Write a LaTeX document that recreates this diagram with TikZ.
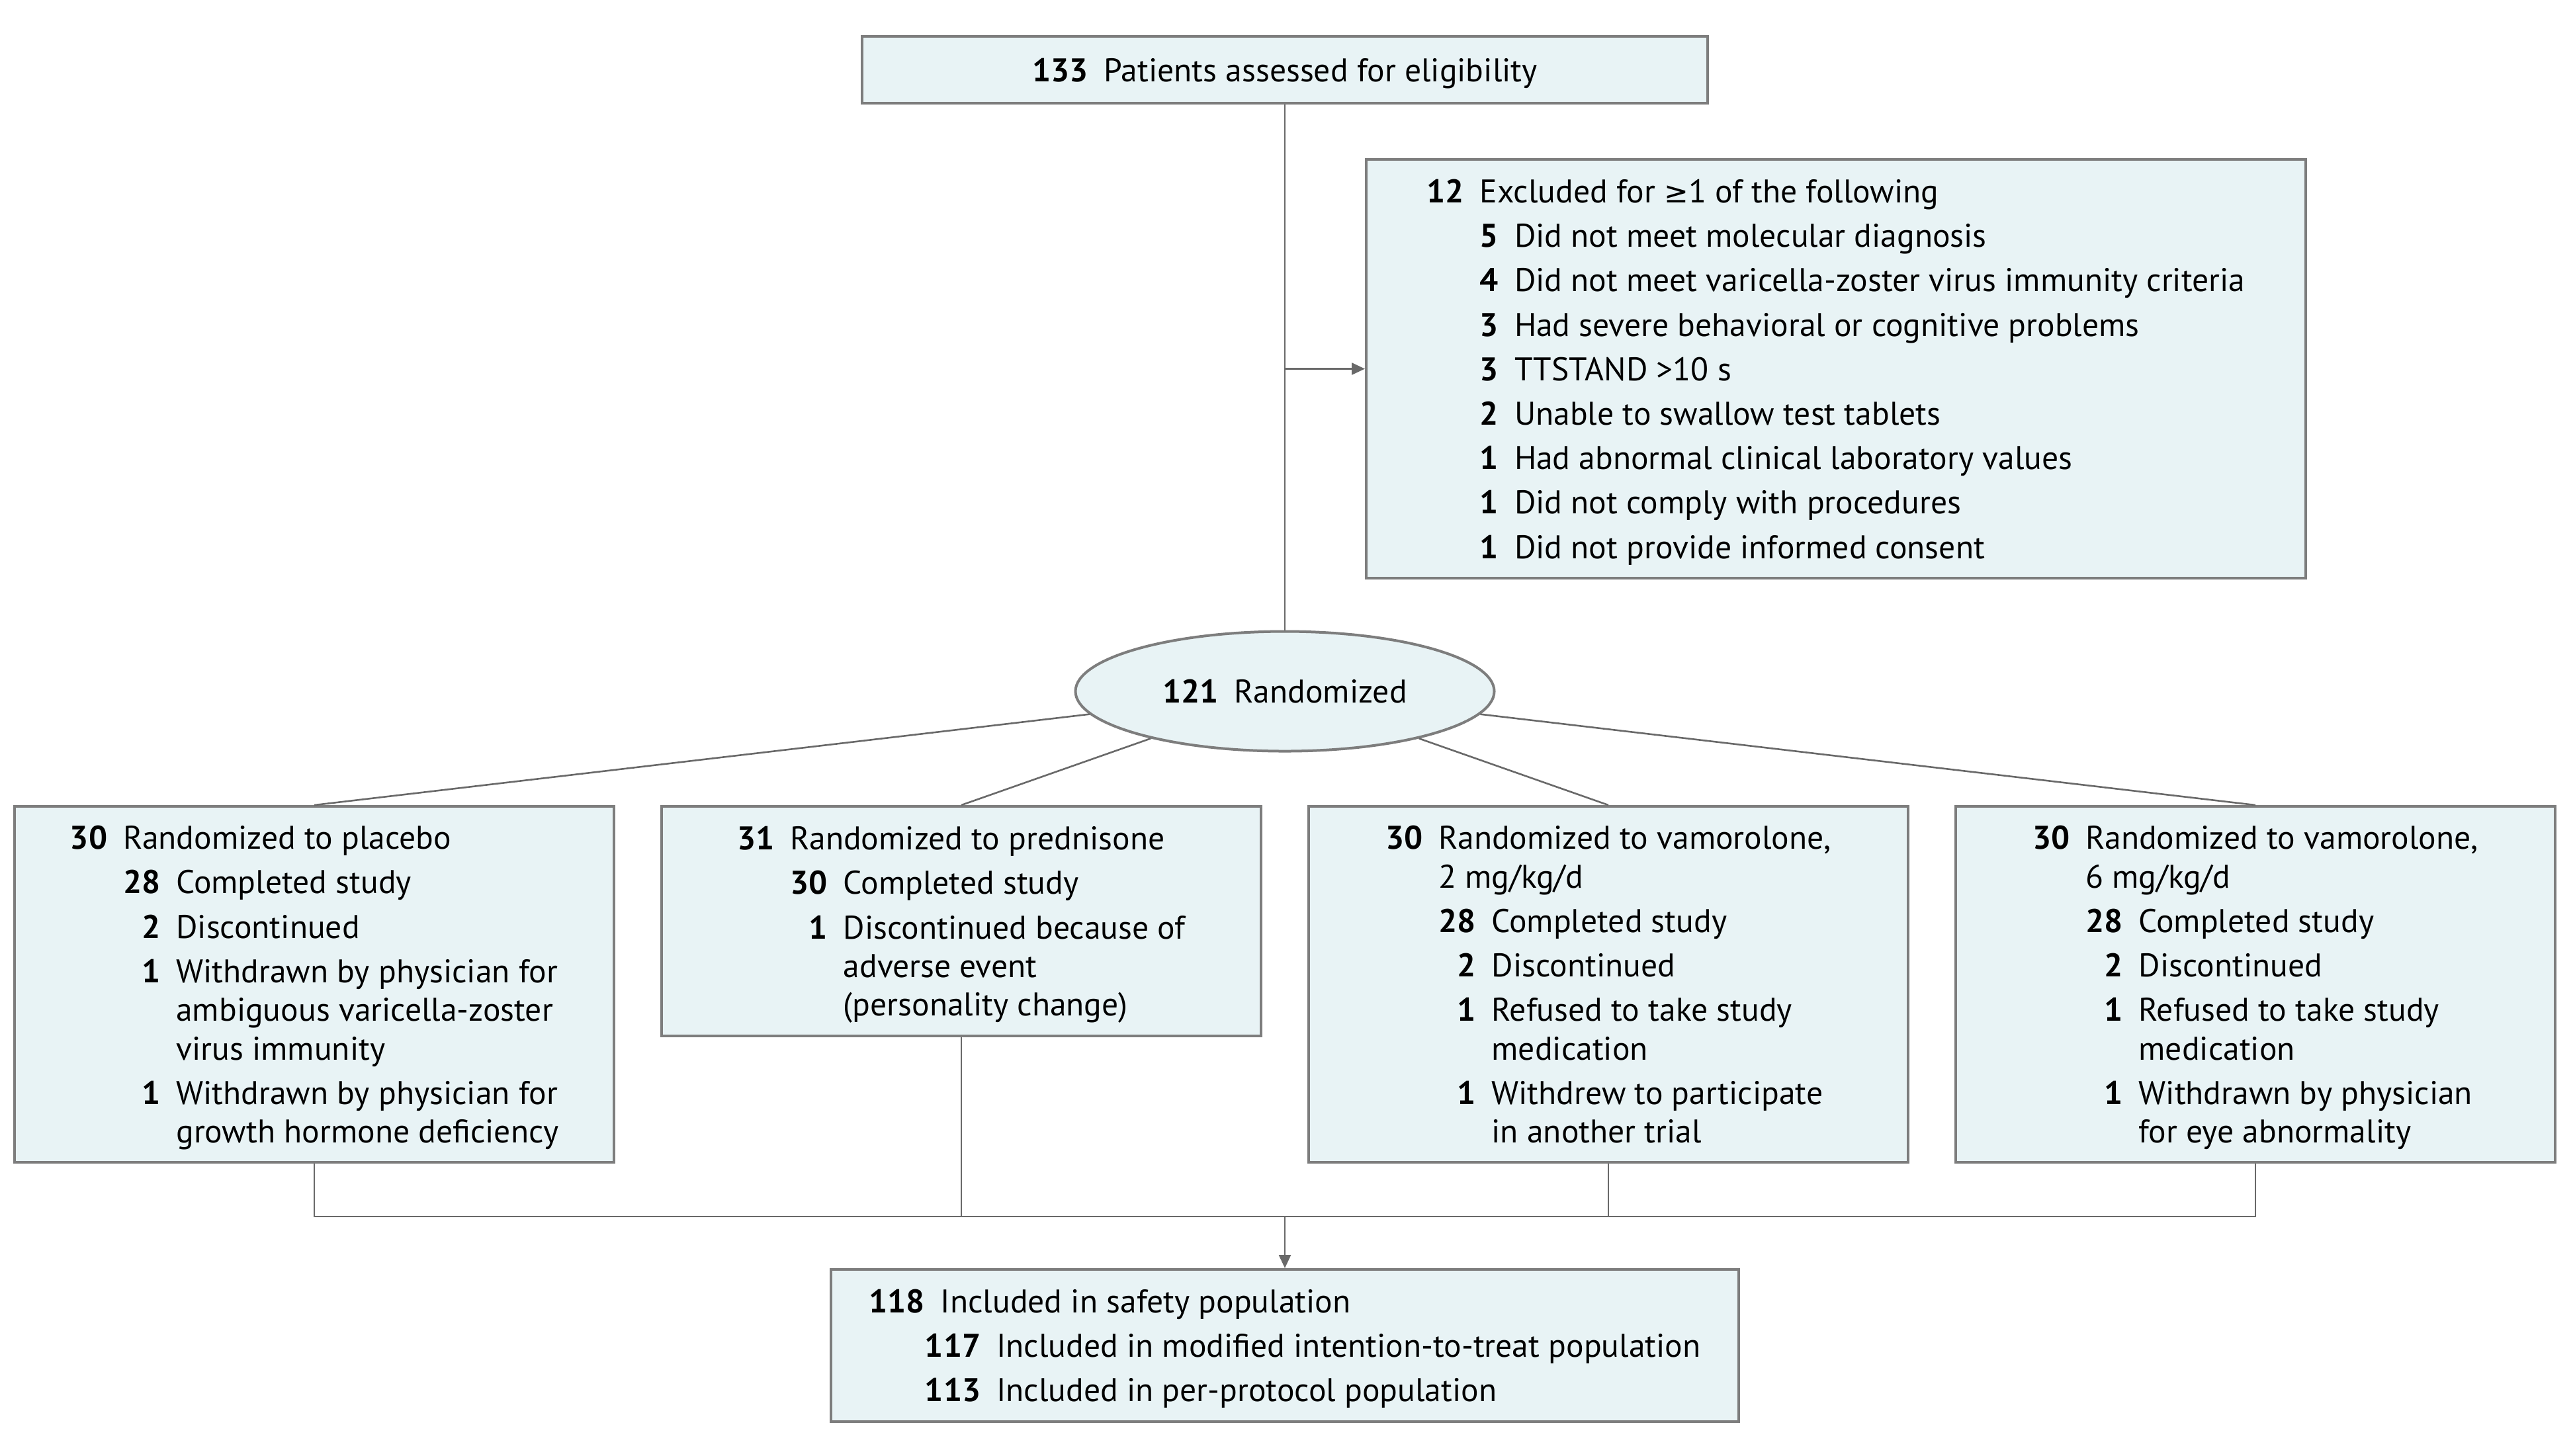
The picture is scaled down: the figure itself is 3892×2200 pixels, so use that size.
\documentclass[tikz,border=0pt]{standalone}
\usepackage{fontspec}
\setmainfont{PT Sans}
\newfontfamily\symfont{DejaVu Sans}
\usetikzlibrary{shapes.geometric,arrows.meta}
\definecolor{boxfill}{RGB}{232,243,245}
\definecolor{boxline}{RGB}{125,125,125}
\definecolor{connc}{RGB}{105,105,105}
\newlength\gp \setlength\gp{6pt}
\newcommand\Lone[2]{\textbf{#1}\hspace*{\gp}#2}
\newcommand\LoneC[2]{\hphantom{\textbf{#1}}\hspace*{\gp}#2}
\newcommand\Ltwo[4]{\hphantom{\textbf{#1}}\hspace*{\gp}\hphantom{\textbf{#2}}\llap{\textbf{#3}}\hspace*{\gp}#4}
\newcommand\LtwoC[3]{\hphantom{\textbf{#1}}\hspace*{\gp}\hphantom{\textbf{#2}}\hspace*{\gp}#3}
\tikzset{
  flowbox/.style={draw=boxline, line width=1pt, fill=boxfill, align=left, inner sep=0pt,
    text depth=0pt, font=\fontsize{12.4}{14.6}\selectfont},
  grpbox/.style={flowbox, minimum width=226.5pt, minimum height=134.5pt},
  ellbox/.style={ellipse, draw=boxline, line width=1pt, fill=boxfill, inner sep=0pt,
    text depth=0pt, minimum width=158.25pt, minimum height=45.25pt, font=\fontsize{12.4}{14.6}\selectfont},
  conn/.style={draw=connc, line width=0.65pt},
  arr/.style={conn, -{Triangle[length=5pt,width=4.5pt]}, color=connc}
}
\begin{document}
\begin{tikzpicture}[x=0.25pt,y=-0.25pt]
\useasboundingbox (0,0) rectangle (3892,2200);

\node[flowbox, minimum width=319.5pt, minimum height=25.25pt] (top) at (1942,105.5)
  {\Lone{133}{Patients assessed for eligibility}};

\node[flowbox, minimum width=355pt, minimum height=158.25pt] (excl) at (2775,557.5)
  {\Lone{12}{Excluded for {\symfont\fontsize{11}{14.6}\selectfont ≥}1 of the following}\\[2.2pt]
   \Ltwo{12}{5}{5}{Did not meet molecular diagnosis}\\[2.2pt]
   \Ltwo{12}{5}{4}{Did not meet varicella-zoster virus immunity criteria}\\[2.2pt]
   \Ltwo{12}{5}{3}{Had severe behavioral or cognitive problems}\\[2.2pt]
   \Ltwo{12}{5}{3}{TTSTAND >10 s}\\[2.2pt]
   \Ltwo{12}{5}{2}{Unable to swallow test tablets}\\[2.2pt]
   \Ltwo{12}{5}{1}{Had abnormal clinical laboratory values}\\[2.2pt]
   \Ltwo{12}{5}{1}{Did not comply with procedures}\\[2.2pt]
   \Ltwo{12}{5}{1}{Did not provide informed consent}};

\node[ellbox] (rand) at (1942,1045) {\Lone{121}{Randomized}};

\node[grpbox] (pl) at (475,1488)
  {\Lone{30}{Randomized to placebo}\\[2.2pt]
   \Ltwo{30}{28}{28}{Completed study}\\[2.2pt]
   \Ltwo{30}{28}{2}{Discontinued}\\[2.2pt]
   \Ltwo{30}{28}{1}{Withdrawn by physician for}\\
   \LtwoC{30}{28}{ambiguous varicella-zoster}\\
   \LtwoC{30}{28}{virus immunity}\\[2.2pt]
   \Ltwo{30}{28}{1}{Withdrawn by physician for}\\
   \LtwoC{30}{28}{growth hormone deficiency}};

\node[flowbox, minimum width=226.5pt, minimum height=86.75pt] (pr) at (1453,1392.5)
  {\Lone{31}{Randomized to prednisone}\\[2.2pt]
   \Ltwo{31}{30}{30}{Completed study}\\[2.2pt]
   \Ltwo{31}{30}{1}{Discontinued because of}\\
   \LtwoC{31}{30}{adverse event}\\
   \LtwoC{31}{30}{(personality change)}};

\node[grpbox] (v2) at (2431,1488)
  {\Lone{30}{Randomized to vamorolone,}\\
   \LoneC{30}{2 mg/kg/d}\\[2.2pt]
   \Ltwo{30}{28}{28}{Completed study}\\[2.2pt]
   \Ltwo{30}{28}{2}{Discontinued}\\[2.2pt]
   \Ltwo{30}{28}{1}{Refused to take study}\\
   \LtwoC{30}{28}{medication}\\[2.2pt]
   \Ltwo{30}{28}{1}{Withdrew to participate}\\
   \LtwoC{30}{28}{in another trial}};

\node[grpbox] (v6) at (3409,1488)
  {\Lone{30}{Randomized to vamorolone,}\\
   \LoneC{30}{6 mg/kg/d}\\[2.2pt]
   \Ltwo{30}{28}{28}{Completed study}\\[2.2pt]
   \Ltwo{30}{28}{2}{Discontinued}\\[2.2pt]
   \Ltwo{30}{28}{1}{Refused to take study}\\
   \LtwoC{30}{28}{medication}\\[2.2pt]
   \Ltwo{30}{28}{1}{Withdrawn by physician}\\
   \LtwoC{30}{28}{for eye abnormality}};

\node[flowbox, minimum width=343pt, minimum height=57.5pt] (bot) at (1942,2034)
  {\Lone{118}{Included in safety population}\\[2.2pt]
   \hphantom{\textbf{118}}\textbf{117}\hspace*{\gp}Included in modified intention-to-treat population\\[2.2pt]
   \hphantom{\textbf{118}}\textbf{113}\hspace*{\gp}Included in per-protocol population};

\coordinate (join) at (1942,1839);

\draw[conn] (top.south) -- (rand.north);
\draw[arr] (top.south |- excl.west) -- (excl.west);
\draw[conn] (rand) -- (pl.north);
\draw[conn] (rand) -- (pr.north);
\draw[conn] (rand) -- (v2.north);
\draw[conn] (rand) -- (v6.north);
\draw[conn] (pl.south) -- (pl.south |- join) -- (v6.south |- join) -- (v6.south);
\draw[conn] (pr.south) -- (pr.south |- join);
\draw[conn] (v2.south) -- (v2.south |- join);
\draw[arr] (join) -- (bot.north);
\end{tikzpicture}
\end{document}
